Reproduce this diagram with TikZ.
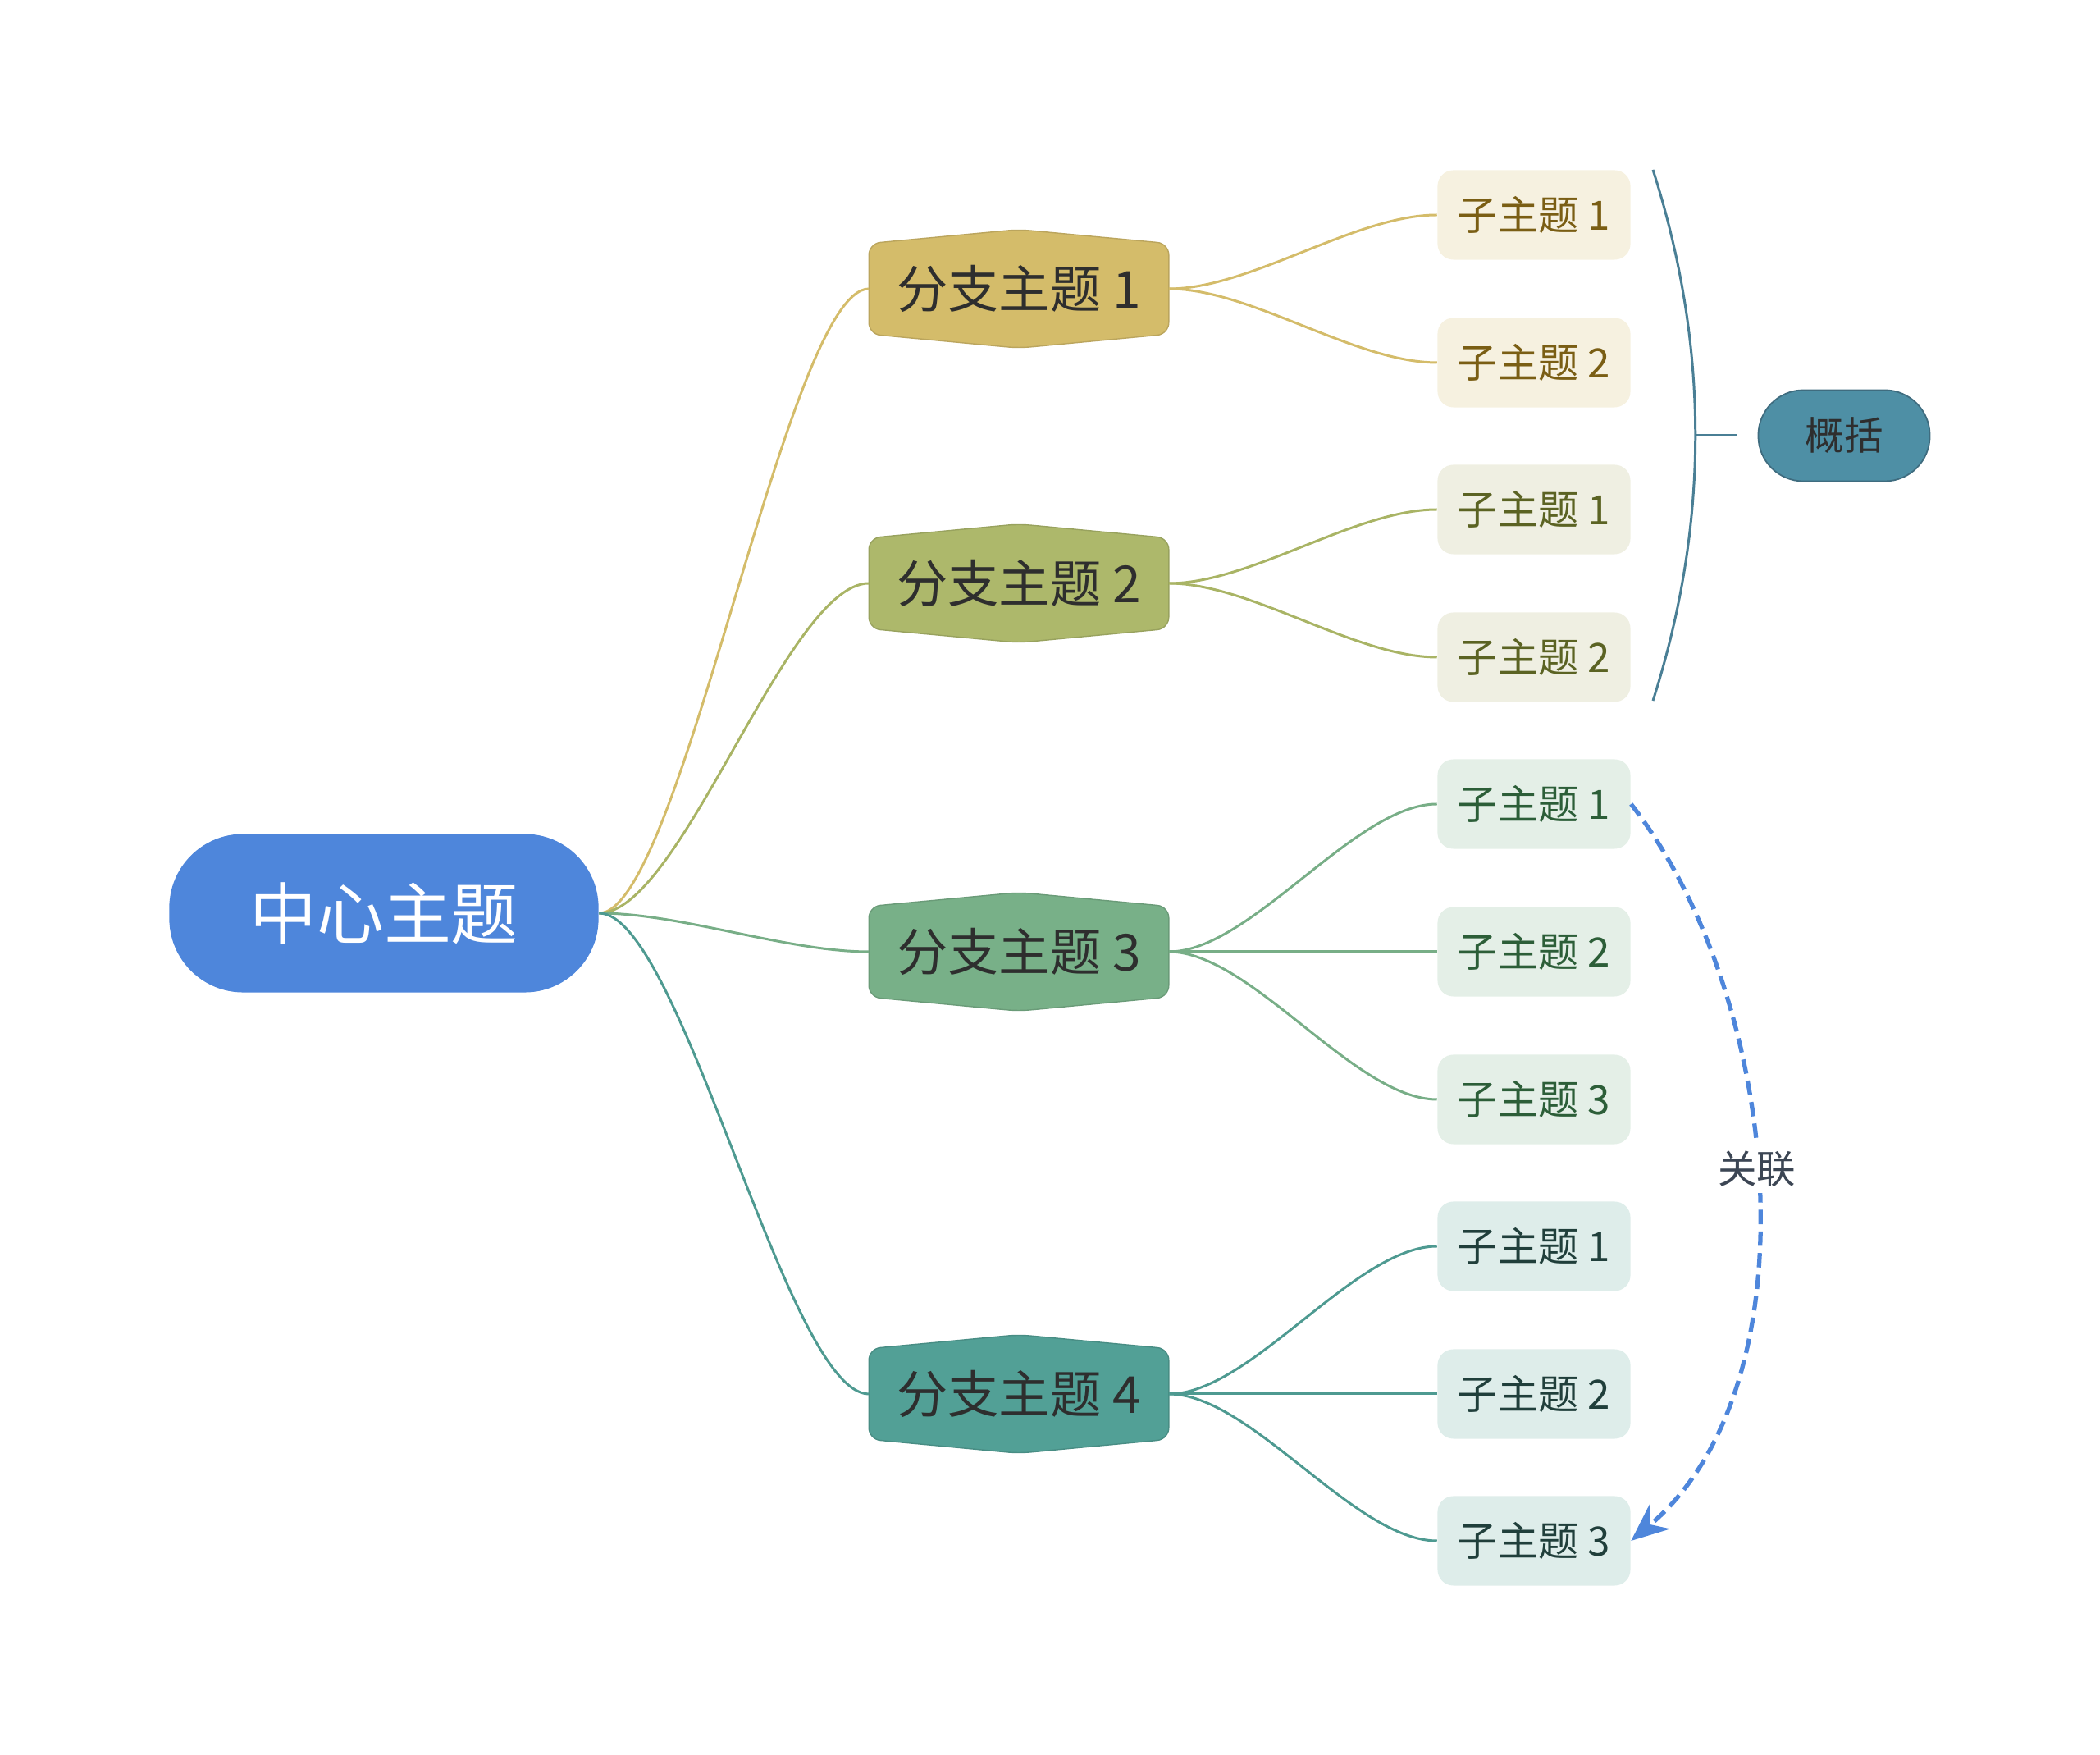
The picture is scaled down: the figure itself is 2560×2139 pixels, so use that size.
\documentclass[tikz,border=0pt]{standalone}
\usepackage{fontspec}
\setmainfont{Noto Sans CJK SC}
\usetikzlibrary{arrows.meta,calc}
\definecolor{centralblue}{HTML}{4E86DB}
\definecolor{brone}{HTML}{D4BC6A}
\definecolor{brtwo}{HTML}{ADB86B}
\definecolor{brthree}{HTML}{78B088}
\definecolor{brfour}{HTML}{52A096}
\definecolor{lnone}{HTML}{D4BC6A}
\definecolor{lntwo}{HTML}{A9B465}
\definecolor{lnthree}{HTML}{78AE87}
\definecolor{lnfour}{HTML}{4E9A91}
\definecolor{subone}{HTML}{F6F1E0}
\definecolor{subtwo}{HTML}{EFEFE2}
\definecolor{subthree}{HTML}{E4EFE7}
\definecolor{subfour}{HTML}{DEEDEA}
\definecolor{txtone}{HTML}{7A5E14}
\definecolor{txttwo}{HTML}{5B6323}
\definecolor{txtthree}{HTML}{2C5E38}
\definecolor{txtfour}{HTML}{203F3B}
\definecolor{sumteal}{HTML}{4E8FA5}
\definecolor{sumline}{HTML}{4A7F95}
\definecolor{darktxt}{HTML}{2E2E2E}
\definecolor{reltxt}{HTML}{3C4654}
\pgfdeclarelayer{bg}
\pgfsetlayers{bg,main}
\tikzset{
  central/.style={fill=centralblue,text=white,font=\fontsize{23.3}{26}\selectfont,
    minimum width=5.23cm,minimum height=1.93cm,rounded corners=0.9cm,inner sep=0},
  branch/.style={text=darktxt,font=\fontsize{17.7}{20}\selectfont,
    minimum width=3.64cm,minimum height=1.09cm,inner sep=0},
  sub/.style={font=\fontsize{14}{16}\selectfont,minimum width=2.35cm,
    minimum height=1.09cm,rounded corners=5.5pt,inner sep=0},
  summary/.style={fill=sumteal,draw=sumline!85!black,line width=0.5pt,text=darktxt,
    font=\fontsize{13.5}{15}\selectfont,minimum width=2.09cm,minimum height=1.11cm,
    rounded corners=0.55cm,inner sep=0},
  link/.style={line width=0.85pt},
  relation/.style={draw=centralblue,line width=1.5pt,dash pattern=on 5pt off 2.5pt,
    -{Stealth[length=13pt,width=11pt]}}
}
\newcommand\hexfill[2]{%
  \begin{pgfonlayer}{bg}
  \filldraw[fill=#2,draw=#2!88!black,line width=0.4pt,rounded corners=4pt]
    (#1.south west) -- (#1.north west) -- ([yshift=0.17cm]#1.north) -- (#1.north east)
    -- (#1.south east) -- ([yshift=-0.17cm]#1.south) -- cycle;
  \end{pgfonlayer}}

\begin{document}
\begin{tikzpicture}[x=0.01cm,y=0.01cm]
\useasboundingbox (0,0) rectangle (2560,2139);
\node[central] (c) at (468,1026) {中心主题};
\node[branch] (b1) at (1242,1787) {分支主题 1};
\node[branch] (b2) at (1242,1428) {分支主题 2};
\node[branch] (b3) at (1242,979) {分支主题 3};
\node[branch] (b4) at (1242,440) {分支主题 4};
\hexfill{b1}{brone}
\hexfill{b2}{brtwo}
\hexfill{b3}{brthree}
\hexfill{b4}{brfour}
\foreach \b/\col in {b1/lnone,b2/lntwo,b3/lnthree,b4/lnfour}
  \draw[link,draw=\col] (c.east) .. controls +(100,0) and +(-100,0) .. (\b.west);
\foreach \s/\y/\n/\b/\bg/\fg/\col in {
    s11/1877/1/b1/subone/txtone/lnone, s12/1697/2/b1/subone/txtone/lnone,
    s21/1518/1/b2/subtwo/txttwo/lntwo, s22/1338/2/b2/subtwo/txttwo/lntwo,
    s31/1159/1/b3/subthree/txtthree/lnthree, s32/979/2/b3/subthree/txtthree/lnthree,
    s33/799/3/b3/subthree/txtthree/lnthree, s41/620/1/b4/subfour/txtfour/lnfour,
    s42/440/2/b4/subfour/txtfour/lnfour, s43/261/3/b4/subfour/txtfour/lnfour}
{
  \node[sub,fill=\bg,text=\fg] (\s) at (1870,\y) {子主题 \n};
  \draw[link,draw=\col] (\b.east) .. controls +(100,0) and +(-100,0) .. (\s.west);
}
\coordinate (sumtop) at (2015,1932);
\coordinate (sumbot) at (2015,1285);
\coordinate (sumtip) at (2067,1608);
\coordinate (sumend) at (2118,1608);
\draw[link,draw=sumline] (sumtop) .. controls (2084,1716) and (2084,1501) .. (sumbot);
\draw[link,draw=sumline] (sumtip) -- (sumend);
\node[summary] (sm) at (2248,1608) {概括};
\draw[relation] (s31.east) to[out=-52,in=40,looseness=0.85]
  node[pos=0.48,fill=white,inner sep=2pt,text=reltxt,font=\fontsize{13.5}{15}\selectfont] (rel) {关联}
  (s43.east);
\end{tikzpicture}
\end{document}
